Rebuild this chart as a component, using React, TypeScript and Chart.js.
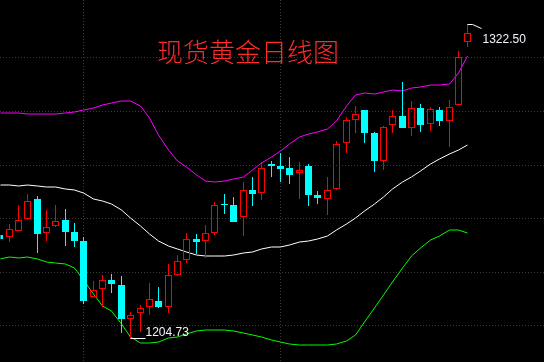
import React, { useEffect, useRef } from 'react';
import { Chart, registerables } from 'chart.js';

Chart.register(...registerables);

// Trading-day index of each candle (day -1 is partly cut off at the left edge)
const DAYS = [-1, 0, 1, 2, 3, 4, 5, 6, 7, 8, 9, 10, 11, 12, 13, 14, 15, 16, 17, 18, 19, 20, 21, 22, 23, 24, 25, 26, 27, 28, 29, 30, 31, 32, 33, 34, 35, 36, 37, 38, 39, 40, 41, 42, 43, 44, 45, 46, 47, 48, 49];

const OPEN = [1243.6, 1242.8, 1245.3, 1249.7, 1257.1, 1244.3, 1246.9, 1249.3, 1244.8, 1241.6, 1220.7, 1223.7, 1226.9, 1224.9, 1212.5, 1214.5, 1217.0, 1219.1, 1216.7, 1228.8, 1234.3, 1242.2, 1241.3, 1244.6, 1255.4, 1254.9, 1250.6, 1260.5, 1259.3, 1270.2, 1269.4, 1268.7, 1266.7, 1269.4, 1258.6, 1257.2, 1260.7, 1277.9, 1286.8, 1290.3, 1281.8, 1271.4, 1284.6, 1288.1, 1283.5, 1291.1, 1285.0, 1290.3, 1286.4, 1292.3, 1315.6];
const HIGH = [1245.0, 1247.9, 1255.0, 1259.0, 1258.2, 1253.0, 1254.9, 1253.3, 1248.2, 1243.1, 1226.4, 1228.7, 1229.0, 1228.3, 1215.0, 1217.5, 1225.8, 1224.4, 1232.9, 1236.2, 1244.4, 1244.1, 1247.3, 1256.0, 1259.0, 1257.9, 1263.5, 1265.3, 1270.8, 1271.3, 1274.3, 1272.8, 1270.9, 1270.2, 1260.2, 1265.3, 1278.8, 1287.8, 1291.8, 1290.5, 1282.2, 1284.2, 1290.3, 1300.8, 1293.6, 1292.6, 1291.6, 1291.5, 1294.1, 1312.2, 1322.5];
const LOW = [1241.0, 1241.1, 1245.3, 1249.3, 1236.9, 1241.6, 1246.7, 1239.6, 1239.3, 1218.1, 1220.5, 1216.9, 1222.2, 1207.2, 1204.73, 1207.6, 1213.7, 1216.3, 1214.7, 1228.4, 1233.1, 1236.6, 1235.0, 1243.6, 1251.6, 1248.5, 1243.4, 1254.6, 1256.8, 1265.4, 1263.6, 1262.9, 1257.2, 1254.5, 1255.3, 1251.2, 1260.5, 1274.4, 1281.6, 1278.1, 1267.3, 1268.1, 1281.8, 1283.5, 1280.7, 1282.2, 1282.5, 1284.5, 1276.5, 1292.1, 1313.7];
const CLOSE = [1242.2, 1245.8, 1249.2, 1256.3, 1244.2, 1246.6, 1248.8, 1244.9, 1241.6, 1219.1, 1223.1, 1226.8, 1225.3, 1212.5, 1213.7, 1216.5, 1219.8, 1216.8, 1228.7, 1233.9, 1242.1, 1241.2, 1244.3, 1254.8, 1255.0, 1248.7, 1260.4, 1259.1, 1268.6, 1269.3, 1268.5, 1266.1, 1267.9, 1258.6, 1257.6, 1260.5, 1277.5, 1286.5, 1288.8, 1281.9, 1271.4, 1283.9, 1288.0, 1283.7, 1291.0, 1284.9, 1290.6, 1286.3, 1291.3, 1310.0, 1319.0];

// Bollinger bands
const BOLL_UPPER = [1289.2, 1289.2, 1289.2, 1289.0, 1288.8, 1288.8, 1289.0, 1289.2, 1289.6, 1290.3, 1291.1, 1292.2, 1293.1, 1293.7, 1293.7, 1291.8, 1287.4, 1281.0, 1275.4, 1271.3, 1269.1, 1266.1, 1263.7, 1263.5, 1263.8, 1264.6, 1265.5, 1267.9, 1270.4, 1272.8, 1275.2, 1277.6, 1280.1, 1281.4, 1282.1, 1283.1, 1286.2, 1291.8, 1296.1, 1296.6, 1296.3, 1297.1, 1297.8, 1297.6, 1298.4, 1298.9, 1299.5, 1299.5, 1300.2, 1304.1, 1310.5];
const BOLL_MID = [1262.4, 1262.2, 1262.0, 1262.2, 1262.0, 1261.6, 1261.5, 1261.0, 1260.5, 1259.2, 1257.3, 1256.2, 1255.1, 1253.2, 1249.9, 1246.9, 1244.1, 1241.6, 1239.6, 1238.3, 1237.4, 1236.2, 1235.9, 1235.7, 1235.9, 1236.2, 1236.9, 1237.5, 1238.4, 1239.2, 1239.4, 1240.1, 1241.0, 1241.6, 1242.3, 1243.5, 1245.4, 1247.8, 1249.9, 1252.6, 1255.3, 1257.9, 1260.9, 1263.5, 1265.5, 1267.6, 1270.2, 1272.1, 1274.0, 1275.4, 1277.3];
const BOLL_LOWER = [1234.6, 1235.6, 1235.1, 1235.6, 1234.9, 1233.5, 1233.4, 1232.9, 1231.4, 1226.9, 1221.7, 1217.2, 1215.3, 1210.3, 1205.8, 1203.4, 1203.5, 1203.9, 1205.1, 1205.7, 1206.6, 1207.7, 1208.1, 1208.2, 1208.2, 1207.9, 1207.3, 1206.4, 1205.6, 1204.5, 1203.8, 1203.2, 1202.8, 1202.7, 1202.5, 1202.5, 1203.0, 1204.1, 1206.4, 1211.2, 1216.5, 1221.3, 1226.2, 1231.4, 1235.9, 1238.8, 1241.8, 1243.3, 1245.6, 1245.4, 1244.3];

const GRID_Y = [1210, 1230, 1250, 1270, 1290, 1310];
const GRID_X = [8, 29];

const TITLE = '现货黄金日线图';
const HIGH_MARK = { day: 49, value: 1322.5, label: '1322.50' };
const LOW_MARK = { day: 13, value: 1204.73, label: '1204.73' };

const RED = '#ff0000';
const CYAN = '#00ffff';
const GRID_COLOR = '#3a3a3a';

const isUp = (i: number) => CLOSE[i] >= OPEN[i];

// shift marks half a pixel so 1px wicks and 7px bodies land on whole pixels
const crispPlugin = {
  id: 'crisp',
  beforeDatasetsDraw(chart: any) {
    chart.ctx.save();
    chart.ctx.translate(0.5, 0);
  },
  afterDatasetsDraw(chart: any) {
    chart.ctx.restore();
  },
};

const overlayPlugin = {
  id: 'overlay',
  afterDatasetsDraw(chart: any) {
    const { ctx, scales } = chart;
    const xs = scales.x;
    const ys = scales.y;
    ctx.save();
    // title
    ctx.font = '300 26px "Noto Sans CJK SC", sans-serif';
    ctx.fillStyle = '#ff2a2a';
    ctx.textAlign = 'center';
    ctx.textBaseline = 'middle';
    ctx.fillText(TITLE, 248, 52);

    ctx.strokeStyle = '#ffffff';
    ctx.fillStyle = '#f2f4ff';
    ctx.lineWidth = 1;
    ctx.font = '12px "Liberation Sans", Arial, sans-serif';
    ctx.textAlign = 'left';
    ctx.textBaseline = 'alphabetic';

    // high marker
    let px = xs.getPixelForValue(HIGH_MARK.day) + 0.5;
    let py = Math.round(ys.getPixelForValue(HIGH_MARK.value)) + 0.5;
    ctx.beginPath();
    ctx.moveTo(px, py);
    ctx.lineTo(px + 5, py);
    ctx.lineTo(px + 14, py + 4);
    ctx.stroke();
    ctx.fillText(HIGH_MARK.label, px + 15, py + 18);

    // low marker
    px = xs.getPixelForValue(LOW_MARK.day) + 0.5;
    py = Math.round(ys.getPixelForValue(LOW_MARK.value)) - 0.5;
    ctx.beginPath();
    ctx.moveTo(px, py);
    ctx.lineTo(px + 15, py);
    ctx.stroke();
    ctx.fillText(LOW_MARK.label, px + 15, py - 3);
    ctx.restore();
  },
};

export default function App() {
  const ref = useRef<HTMLCanvasElement>(null);

  useEffect(() => {
    document.body.style.margin = '0';
    document.body.style.background = '#000';
    const canvas = ref.current;
    if (!canvas) return;

    const body = DAYS.map((d, i) => ({ x: d, y: [OPEN[i], CLOSE[i]] }));
    const upperWick = DAYS.map((d, i) => ({ x: d, y: [Math.max(OPEN[i], CLOSE[i]), HIGH[i]] }));
    const lowerWick = DAYS.map((d, i) => ({ x: d, y: [LOW[i], Math.min(OPEN[i], CLOSE[i])] }));
    const line = (arr: number[]) => DAYS.map((d, i) => ({ x: d, y: arr[i] }));

    const wickDs = (data: any[], order: number) => ({
      type: 'bar' as const,
      data,
      order,
      grouped: false,
      barThickness: 1,
      inflateAmount: 0,
      borderWidth: 0,
      backgroundColor: (c: any) => (isUp(c.dataIndex) ? RED : CYAN),
    });

    const lineDs = (arr: number[], color: string) => ({
      type: 'line' as const,
      data: line(arr),
      order: 5,
      borderColor: color,
      borderWidth: 1,
      pointRadius: 0,
      tension: 0,
      fill: false,
    });

    const chart = new Chart(canvas, {
      type: 'bar',
      data: {
        datasets: [
          {
            type: 'bar',
            data: body,
            order: 0,
            grouped: false,
            barThickness: 7,
            inflateAmount: 0,
            borderSkipped: false,
            borderWidth: (c: any) => (isUp(c.dataIndex) ? 1 : 0),
            borderColor: (c: any) => (isUp(c.dataIndex) ? RED : CYAN),
            backgroundColor: (c: any) => (isUp(c.dataIndex) ? 'rgba(0,0,0,0)' : CYAN),
          } as any,
          wickDs(upperWick, 1) as any,
          wickDs(lowerWick, 2) as any,
          lineDs(BOLL_UPPER, '#ff00ff') as any,
          lineDs(BOLL_MID, '#ffffff') as any,
          lineDs(BOLL_LOWER, '#00ff00') as any,
        ],
      },
      options: {
        responsive: false,
        animation: false,
        events: [],
        layout: { padding: 0 },
        plugins: { legend: { display: false }, tooltip: { enabled: false }, title: { display: false } },
        scales: {
          x: {
            type: 'linear',
            offset: false,
            alignToPixels: true,
            min: -0.908,
            max: 57.2,
            ticks: { display: false },
            grid: { color: GRID_COLOR, drawTicks: false, lineWidth: 1, offset: false },
            border: { display: false, dash: [1, 2] },
            afterBuildTicks: (s: any) => {
              s.ticks = GRID_X.map((v) => ({ value: v }));
            },
            afterFit: (s: any) => {
              s.height = 0;
            },
          },
          y: {
            type: 'linear',
            offset: false,
            alignToPixels: true,
            min: 1196.3,
            max: 1331.4,
            ticks: { display: false },
            grid: { color: GRID_COLOR, drawTicks: false, lineWidth: 1, offset: false },
            border: { display: false, dash: [1, 2] },
            afterBuildTicks: (s: any) => {
              s.ticks = GRID_Y.map((v) => ({ value: v }));
            },
            afterFit: (s: any) => {
              s.width = 0;
            },
          },
        },
      } as any,
      plugins: [crispPlugin, overlayPlugin],
    });
    return () => chart.destroy();
  }, []);

  return (
    <div style={{ width: 544, height: 362, background: '#000' }}>
      <canvas ref={ref} width={544} height={362} style={{ display: 'block' }} />
    </div>
  );
}
